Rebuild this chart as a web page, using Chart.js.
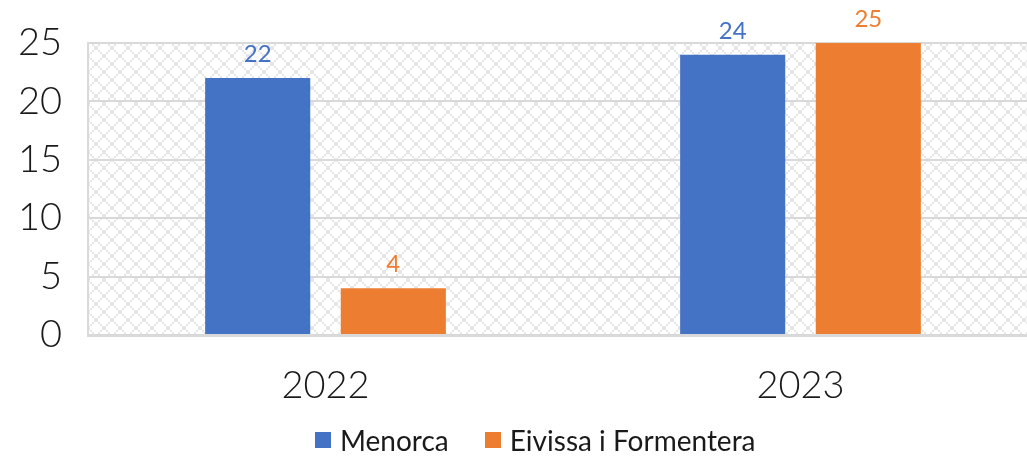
<!DOCTYPE html>
<html>
<head>
<meta charset="utf-8">
<script src="https://cdn.jsdelivr.net/npm/chart.js@4/dist/chart.umd.min.js"></script>
<style>
  html, body { margin: 0; padding: 0; background: #fff; overflow: hidden; }
  #wrap { position: relative; width: 1038px; height: 457px; }
  #llegenda {
    position: absolute; left: 315px; top: 423px;
    display: flex; align-items: center;
    font-family: Lato, sans-serif; font-size: 28px; color: #1a1a1a;
  }
  #llegenda span.item { display: flex; align-items: center; margin-right: 36px; }
  #llegenda span.box { width: 16px; height: 16px; margin-right: 9px; display: inline-block; }
</style>
</head>
<body>
<div id="wrap">
  <canvas id="grafic"></canvas>
  <div id="llegenda"></div>
</div>
<script>
// dades
const anys = ['2022', '2023'];
const menorca = [22, 24];
const eivissa = [4, 25];
const series = ['Menorca', 'Eivissa i Formentera'];
const colors = ['#4472C4', '#ED7D31'];
const ticksY = [0, 5, 10, 15, 20, 25];

// fons ratllat (patró de rombes)
function fesPatro() {
  const c = document.createElement('canvas');
  c.width = 16; c.height = 16;
  const g = c.getContext('2d');
  g.fillStyle = '#e6e6e6';
  for (let i = 0; i < 16; i += 2) {
    g.fillRect(i, i, 2, 2);
    g.fillRect(14 - i, i, 2, 2);
  }
  return c;
}

const fonsPlugin = {
  id: 'fons',
  beforeDraw(chart) {
    const { ctx, chartArea } = chart;
    ctx.save();
    ctx.fillStyle = ctx.createPattern(fesPatro(), 'repeat');
    ctx.fillRect(chartArea.left, chartArea.top, chartArea.right - chartArea.left, chartArea.bottom - chartArea.top);
    ctx.restore();
  }
};

// etiquetes de valor damunt les barres
const etiquetesPlugin = {
  id: 'etiquetes',
  afterDatasetsDraw(chart) {
    const ctx = chart.ctx;
    ctx.save();
    ctx.font = '24px Lato, sans-serif';
    ctx.textAlign = 'center';
    ctx.textBaseline = 'alphabetic';
    chart.data.datasets.forEach((ds, i) => {
      const meta = chart.getDatasetMeta(i);
      ctx.fillStyle = ds.backgroundColor;
      meta.data.forEach((bar, j) => {
        ctx.fillText(String(ds.data[j]), bar.x, bar.y - 16);
      });
    });
    ctx.restore();
  }
};

const chart = new Chart(document.getElementById('grafic'), {
  type: 'bar',
  data: {
    labels: anys,
    datasets: [
      { label: series[0], data: menorca, backgroundColor: colors[0] },
      { label: series[1], data: eivissa, backgroundColor: colors[1] }
    ]
  },
  options: {
    responsive: true,
    maintainAspectRatio: false,
    animation: false,
    layout: { padding: { top: 43, right: 0, bottom: 0, left: 0 } },
    categoryPercentage: 0.571,
    barPercentage: 0.775,
    plugins: {
      legend: { display: false },
      tooltip: { enabled: false }
    },
    scales: {
      x: {
        grid: { display: false },
        border: { display: true, color: '#d9d9d9', width: 3 },
        ticks: {
          color: '#1a1a1a',
          padding: 20,
          font: { family: 'Lato, sans-serif', size: 38, weight: '300' }
        },
        afterFit(scale) { scale.height = 122; }
      },
      y: {
        min: 0,
        max: 25,
        afterBuildTicks(scale) { scale.ticks = ticksY.map(v => ({ value: v })); },
        grid: { color: '#d9d9d9', lineWidth: 2, drawTicks: false },
        border: { display: true, color: '#d9d9d9', width: 2 },
        ticks: {
          color: '#1a1a1a',
          padding: 26,
          font: { family: 'Lato, sans-serif', size: 38, weight: '300', lineHeight: 0.8 }
        },
        afterFit(scale) { scale.width = 88; }
      }
    }
  },
  plugins: [fonsPlugin, etiquetesPlugin]
});

// llegenda
const llegenda = document.getElementById('llegenda');
chart.data.datasets.forEach(ds => {
  const item = document.createElement('span');
  item.className = 'item';
  const box = document.createElement('span');
  box.className = 'box';
  box.style.background = ds.backgroundColor;
  const txt = document.createElement('span');
  txt.textContent = ds.label;
  item.appendChild(box);
  item.appendChild(txt);
  llegenda.appendChild(item);
});
</script>
</body>
</html>
